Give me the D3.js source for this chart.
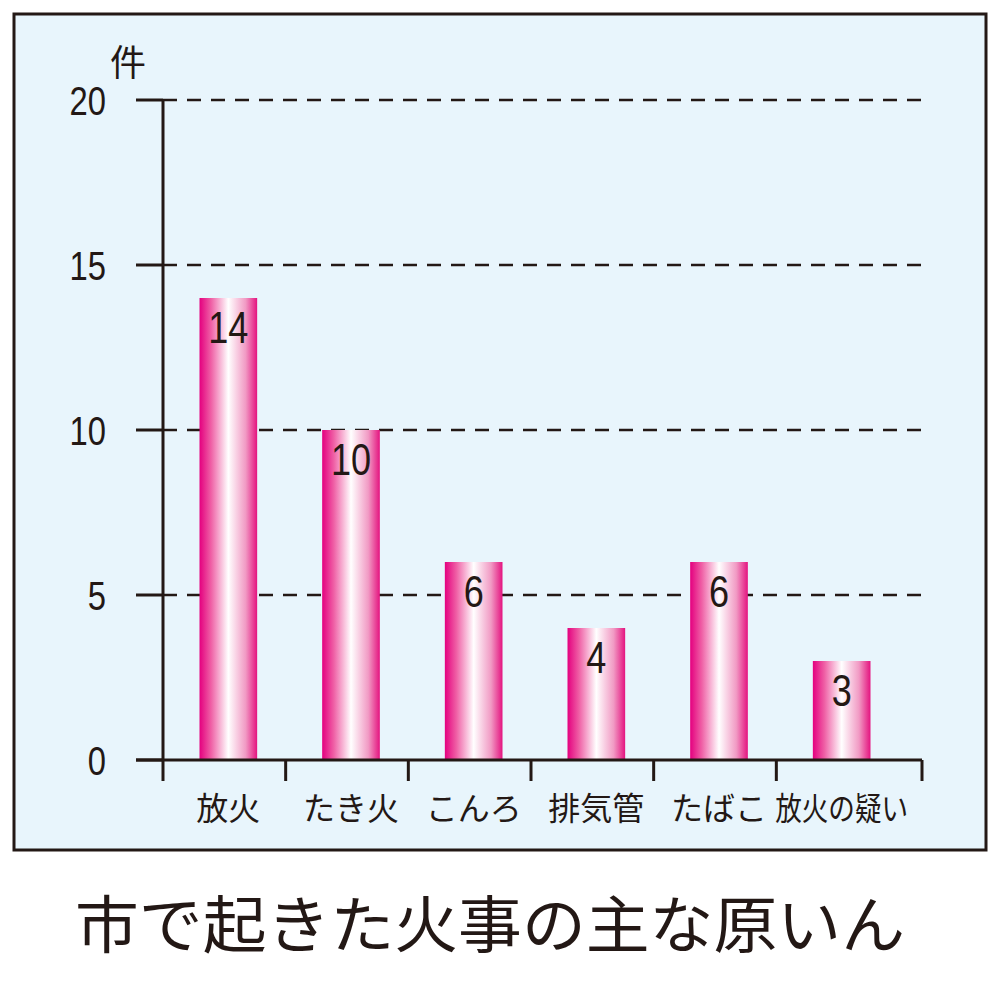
<!DOCTYPE html><html><head><meta charset="utf-8"><script src="https://cdn.jsdelivr.net/npm/d3@7"></script>
<style>body{margin:0;background:#fff}</style></head><body><svg id="c" width="1000" height="982"></svg>
<script>
const categories=["放火","たき火","こんろ","排気管","たばこ","放火の疑い"];
const values=[14,10,6,4,6,3];
const yTicks=[0,5,10,15,20];
const title="市で起きた火事の主な原いん";
const unit="件";
const F="'Noto Sans CJK JP','Liberation Sans',sans-serif";
const N="'Liberation Sans',sans-serif";
const svg=d3.select("#c");
const defs=svg.append("defs");
const g=defs.append("linearGradient").attr("id","bg").attr("x1","0").attr("x2","1");
[[0,"#e4007f"],[0.2,"#ef5fa5"],[0.5,"#ffffff"],[0.8,"#f19ac4"],[1,"#e4137f"]].forEach(s=>g.append("stop").attr("offset",s[0]).attr("stop-color",s[1]));
svg.append("rect").attr("x",14).attr("y",14).attr("width",972).attr("height",836).attr("fill","#e8f5fc").attr("stroke","#231815").attr("stroke-width",3);
const x=d3.scaleBand().domain(categories).range([167,903]).paddingInner(0.53).paddingOuter(0.265);
const y=d3.scaleLinear().domain([0,20]).range([760,100]);
const step=x.step();
function ntext(px,py,t,size,anchor){svg.append("text").attr("transform",`translate(${px},${py}) scale(0.82,1)`).attr("text-anchor",anchor).attr("font-family",N).attr("font-size",size).attr("fill","#231815").text(t);}
yTicks.slice(1).forEach(t=>svg.append("line").attr("x1",163).attr("x2",922).attr("y1",y(t)).attr("y2",y(t)).attr("stroke","#231815").attr("stroke-width",2.5).attr("stroke-dasharray","14,10"));
svg.selectAll(".b").data(values).join("rect").attr("x",(d,i)=>x(categories[i])).attr("width",x.bandwidth()).attr("y",d=>y(d)).attr("height",d=>y(0)-y(d)).attr("fill","url(#bg)");
values.forEach((d,i)=>ntext(x(categories[i])+x.bandwidth()/2,y(d)+45,d,44,"middle"));
svg.append("line").attr("x1",163).attr("x2",163).attr("y1",100).attr("y2",760).attr("stroke","#231815").attr("stroke-width",3);
svg.append("line").attr("x1",136).attr("x2",922).attr("y1",760).attr("y2",760).attr("stroke","#231815").attr("stroke-width",3);
yTicks.forEach(t=>{svg.append("line").attr("x1",136).attr("x2",163).attr("y1",y(t)).attr("y2",y(t)).attr("stroke","#231815").attr("stroke-width",3);
ntext(106,y(t)+15,t,40,"end");});
categories.forEach((c,i)=>{const bx=i==0?163:x(c)+x.bandwidth()/2-step/2-4;
svg.append("line").attr("x1",bx).attr("x2",bx).attr("y1",760).attr("y2",781).attr("stroke","#231815").attr("stroke-width",3);
const tx=svg.append("text").attr("x",x(c)+x.bandwidth()/2).attr("y",820).attr("text-anchor","middle").attr("font-family",F).attr("font-size",32).attr("fill","#231815").text(c);
if(c.length>4)tx.attr("textLength",133).attr("lengthAdjust","spacingAndGlyphs");});
svg.append("line").attr("x1",922).attr("x2",922).attr("y1",760).attr("y2",781).attr("stroke","#231815").attr("stroke-width",3);
svg.append("text").attr("x",110).attr("y",76).attr("font-family",F).attr("font-size",36).attr("fill","#231815").text(unit);
svg.append("text").attr("x",490).attr("y",948).attr("text-anchor","middle").attr("font-family",F).attr("font-size",62).attr("textLength",830).attr("lengthAdjust","spacingAndGlyphs").attr("fill","#231815").text(title);
</script></body></html>
